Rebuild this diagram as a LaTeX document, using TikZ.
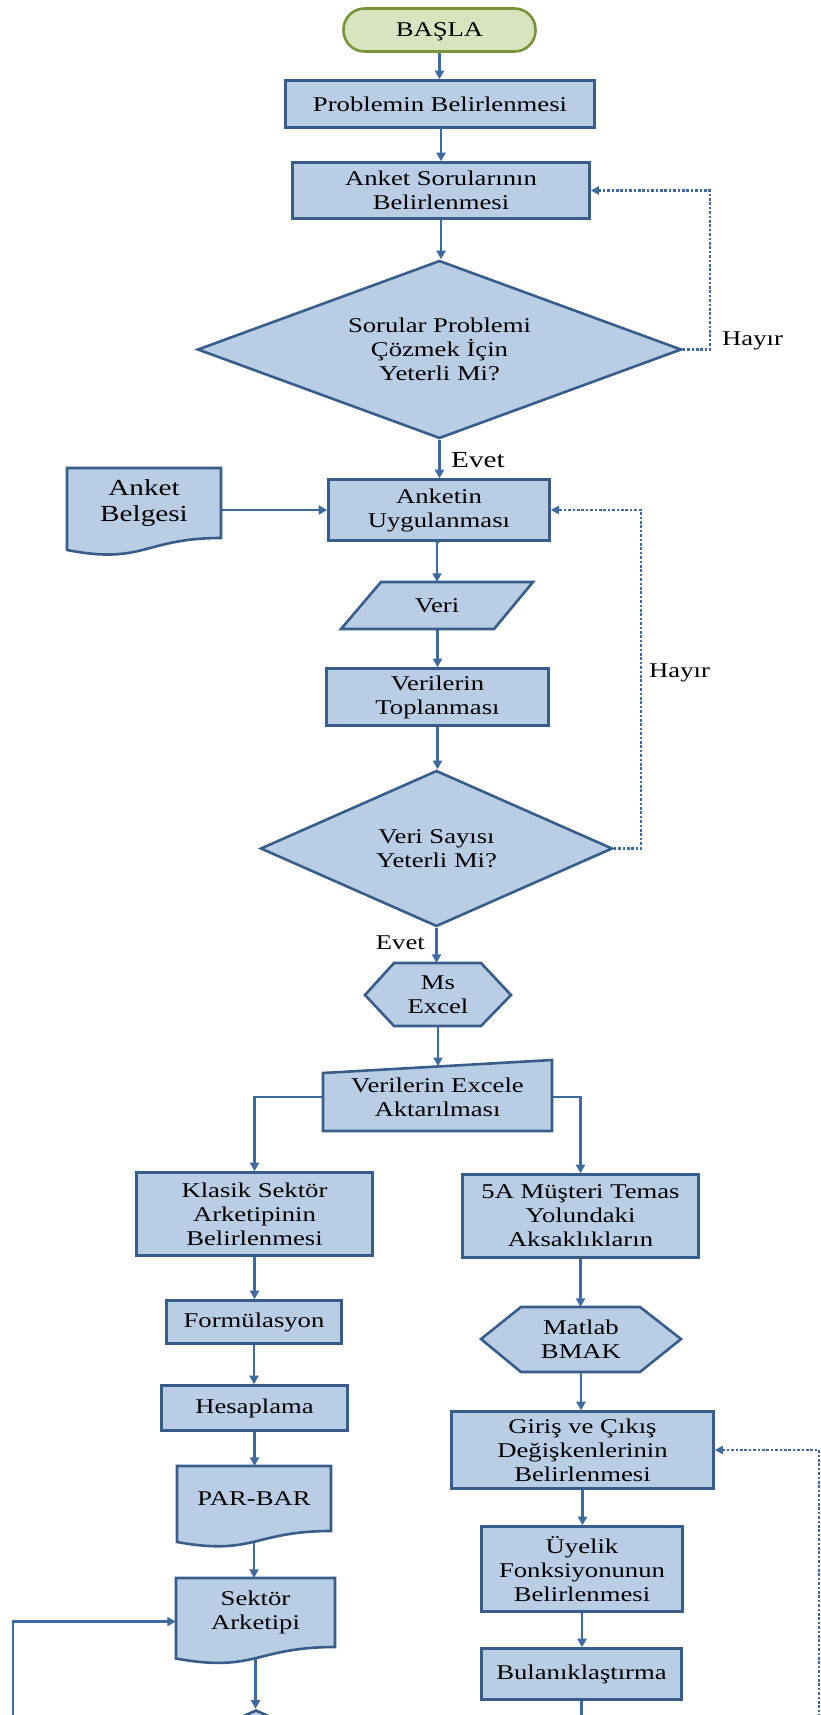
\documentclass[tikz,border=0pt]{standalone}
\usepackage{fontspec}
\setmainfont{Liberation Serif}[FakeStretch=1.27]
\usetikzlibrary{arrows.meta,shapes.geometric}
\pgfdeclarelayer{background}
\pgfsetlayers{background,main}

\definecolor{boxfill}{HTML}{B9CDE5}
\definecolor{boxline}{HTML}{385D8A}
\definecolor{conn}{HTML}{3F6A9F}
\definecolor{startfill}{HTML}{D7E4BD}
\definecolor{startline}{HTML}{77933C}

\newcommand\txtsize{\fontsize{21pt}{24pt}\selectfont}
\newcommand\bigtxtsize{\fontsize{23pt}{26pt}\selectfont}

\begin{document}
\begin{tikzpicture}[x=1pt,y=-1pt,
  shapeline/.style={draw=boxline,fill=boxfill,line width=2.6pt,line join=miter},
  stepbox/.style={shapeline,rectangle,inner sep=0pt,align=center,font=\txtsize},
  textonly/.style={inner sep=0pt,align=center,font=\txtsize},
  decision/.style={shapeline,diamond,inner sep=0pt,align=center,font=\txtsize},
  terminal/.style={draw=startline,fill=startfill,line width=2.6pt,rounded corners=21pt,
    inner sep=0pt,text depth=0pt,font=\txtsize},
  flow/.style={draw=conn,line width=2.4pt,-{Triangle[length=8.5pt,width=9pt]}},
  plainflow/.style={draw=conn,line width=2.4pt},
  backflow/.style={draw=conn,line width=2.2pt,dash pattern=on 2.6pt off 1.8pt,
    -{Triangle[length=8pt,width=8pt]}},
  answer/.style={inner sep=0pt,font=\txtsize}
]
\useasboundingbox (0,0) rectangle (821,1715);

% ---------- main column ----------
\node[terminal,minimum width=192pt,minimum height=43pt] (start) at (439.5,30) {BAŞLA};
\node[stepbox,minimum width=309pt,minimum height=47pt] (prob) at (440,104) {Problemin Belirlenmesi};
\node[stepbox,minimum width=297pt,minimum height=56pt] (anksoru) at (441,190.5) {Anket Sorularının\\Belirlenmesi};
\node[decision,aspect=2.7,minimum width=484pt,minimum height=178pt] (dec1) at (439.5,349.5)
  {Sorular Problemi\\Çözmek İçin\\Yeterli Mi?};
\node[stepbox,minimum width=221pt,minimum height=61pt] (anketin) at (439,510) {Anketin\\Uygulanması};

% document: Anket Belgesi
\filldraw[shapeline] (67,468) -- (221,468) -- (221,538)
  .. controls (144,538) and (144,565) .. (67,550) -- cycle;
\node[textonly,font=\bigtxtsize,minimum width=154pt,minimum height=71pt] (belge) at (144,503) {Anket\\Belgesi};

% data: Veri
\filldraw[shapeline] (381,582) -- (533,582) -- (494,629) -- (341,629) -- cycle;
\node[textonly,minimum width=150pt,minimum height=47pt] (veri) at (437,605.5) {Veri};

\node[stepbox,minimum width=222pt,minimum height=57pt] (toplanma) at (437.5,697) {Verilerin\\Toplanması};
\node[decision,aspect=2.25,minimum width=352pt,minimum height=156pt] (dec2) at (436.5,848.5)
  {Veri Sayısı\\Yeterli Mi?};

% preparation: Ms Excel
\filldraw[shapeline] (365,995) -- (394,963) -- (481,963) -- (511,995) -- (481,1026) -- (394,1026) -- cycle;
\node[textonly,minimum width=146pt,minimum height=63pt] (excel) at (438,994.5) {Ms\\Excel};

% manual input: Verilerin Excele Aktarılması
\filldraw[shapeline] (323,1073) -- (552,1060) -- (552,1131) -- (323,1131) -- cycle;
\node[textonly,minimum width=229pt,minimum height=71pt] (aktar) at (437.5,1097) {Verilerin Excele\\Aktarılması};
\coordinate (aktartop) at (438,1066);

% ---------- left branch ----------
\node[stepbox,minimum width=236pt,minimum height=83pt] (klasik) at (254.5,1214) {Klasik Sektör\\Arketipinin\\Belirlenmesi};
\node[stepbox,minimum width=175pt,minimum height=43pt] (formul) at (254,1322) {Formülasyon};
\node[stepbox,minimum width=186pt,minimum height=45pt] (hesap) at (254.5,1408) {Hesaplama};

\filldraw[shapeline] (177,1466) -- (331,1466) -- (331,1531)
  .. controls (254,1531) and (254,1556) .. (177,1542) -- cycle;
\node[textonly,minimum width=154pt,minimum height=65pt] (parbar) at (254,1498.5) {PAR-BAR};

\filldraw[shapeline] (176,1578) -- (335,1578) -- (335,1647)
  .. controls (255.5,1647) and (255.5,1673) .. (176,1658.5) -- cycle;
\node[textonly,minimum width=159pt,minimum height=69pt] (sektor) at (255.5,1612.5) {Sektör\\Arketipi};

\begin{scope}
  \clip (0,0) rectangle (821,1715);
  \node[decision,aspect=2.25,minimum width=352pt,minimum height=156pt] (dec3) at (256,1788) {};
\end{scope}

% ---------- right branch ----------
\node[stepbox,minimum width=236pt,minimum height=83pt] (fivea) at (580.5,1216) {5A Müşteri Temas\\Yolundaki\\Aksaklıkların};

\filldraw[shapeline] (481,1339) -- (521,1307) -- (640,1307) -- (681,1339) -- (640,1372) -- (521,1372) -- cycle;
\node[textonly,minimum width=200pt,minimum height=65pt] (matlab) at (581,1339.5) {Matlab\\BMAK};

\node[stepbox,minimum width=262pt,minimum height=77pt] (giris) at (582.5,1450) {Giriş ve Çıkış\\Değişkenlerinin\\Belirlenmesi};
\node[stepbox,minimum width=201pt,minimum height=85pt] (uyelik) at (582,1569) {Üyelik\\Fonksiyonunun\\Belirlenmesi};
\node[stepbox,minimum width=200pt,minimum height=51pt] (bulanik) at (581.5,1674) {Bulanıklaştırma};

% ---------- answer labels ----------
\node[answer,anchor=west] (hayir1) at (722,341) {Hayır};
\node[answer,anchor=west,font=\bigtxtsize] (evet1) at (451,460) {Evet};
\node[answer,anchor=west] (hayir2) at (649,673) {Hayır};
\node[answer,anchor=east] (evet2) at (425,943) {Evet};

% loose ends leaving the page
\coordinate (leftloop) at (12.7,1730);
\coordinate (rightloop) at (819,1730);
\coordinate (belowbul) at (581.5,1730);

% ---------- connectors ----------
\begin{pgfonlayer}{background}
  \draw[flow] (start.south) -- (start.south |- prob.north);
  \draw[flow] (prob.south) -- (prob.south -| anksoru.north) -- (anksoru.north);
  \draw[flow] (anksoru.south) -- (anksoru.south |- dec1.north);
  \draw[backflow] (dec1.east) -- ++(27,0) |- (anksoru.east);
  \draw[flow] (dec1.south) -- (dec1.south |- anketin.north);
  \draw[flow] (belge.east |- anketin.west) -- (anketin.west);
  \draw[flow] (anketin.south) -- (anketin.south -| veri.north) -- (veri.north);
  \draw[flow] (veri.south) -- (veri.south -| toplanma.north) -- (toplanma.north);
  \draw[flow] (toplanma.south) -- (toplanma.south |- dec2.north);
  \draw[backflow] (dec2.east) -- ++(27,0) |- (anketin.east);
  \draw[flow] (dec2.south) -- (dec2.south |- excel.north);
  \draw[flow] (excel.south) -- (aktartop);
  \draw[flow] (aktar.west) -| (klasik.north);
  \draw[flow] (aktar.east) -| (fivea.north);
  \draw[flow] (klasik.south) -- (klasik.south |- formul.north);
  \draw[flow] (formul.south) -- (formul.south |- hesap.north);
  \draw[flow] (hesap.south) -- (hesap.south |- parbar.north);
  \draw[flow] (parbar.south) -- (parbar.south |- sektor.north);
  \draw[flow] (sektor.south) -- (sektor.south |- dec3.north);
  \draw[flow] (leftloop) |- ([yshift=-9pt]sektor.west);
  \draw[flow] (fivea.south) -- (fivea.south |- matlab.north);
  \draw[flow] (matlab.south) -- (matlab.south |- giris.north);
  \draw[flow] (giris.south) -- (giris.south |- uyelik.north);
  \draw[flow] (uyelik.south) -- (uyelik.south |- bulanik.north);
  \draw[plainflow] (bulanik.south) -- (belowbul);
  \draw[backflow] (rightloop) |- (giris.east);
\end{pgfonlayer}
\end{tikzpicture}
\end{document}
